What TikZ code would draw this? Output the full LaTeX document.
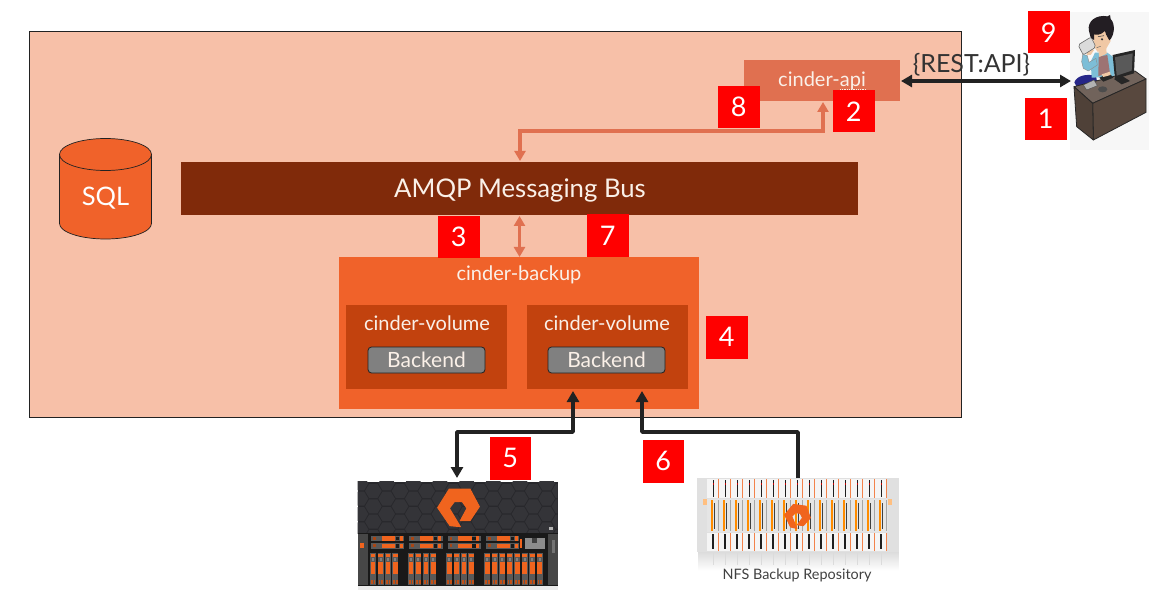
\documentclass[tikz,border=0pt]{standalone}
\usepackage{fontspec}
\setmainfont{Lato}
\usetikzlibrary{arrows.meta}
\definecolor{panelbg}{RGB}{247,192,168}
\definecolor{apibox}{RGB}{224,112,80}
\definecolor{busc}{RGB}{128,42,10}
\definecolor{backupc}{RGB}{240,98,42}
\definecolor{volc}{RGB}{194,66,14}
\definecolor{backc}{RGB}{128,128,128}
\definecolor{arrdark}{RGB}{34,34,34}
\definecolor{txtlight}{RGB}{250,240,232}
\definecolor{badgered}{RGB}{255,0,0}
\definecolor{pureorange}{RGB}{240,100,30}
\definecolor{deskc}{RGB}{88,72,62}
\definecolor{shirtc}{RGB}{125,190,215}
\definecolor{skinc}{RGB}{240,200,165}
\definecolor{hairc}{RGB}{35,30,35}
\definecolor{hexc}{RGB}{52,52,56}
\definecolor{hexbg}{RGB}{40,40,44}
\tikzset{
 boxn/.style={inner sep=0pt,outer sep=0pt,anchor=north west,text=txtlight},
 lbl/.style={text=txtlight,font=\fontsize{20}{21}\selectfont},
 benode/.style={draw=arrdark,line width=0.8pt,fill=backc,rounded corners=3.5pt,minimum width=117pt,minimum height=26pt,inner sep=0pt,text=txtlight,font=\fontsize{21}{22}\selectfont},
 badge/.style={fill=badgered,text=white,inner sep=0pt,outer sep=0pt,minimum width=41.5pt,minimum height=42.5pt,anchor=north west,font=\fontsize{27}{27}\selectfont},
 orangearrow/.style={draw=apibox,line width=3.6pt,{Triangle[length=10pt,width=11pt]}-{Triangle[length=10pt,width=11pt]}},
 darkarrow/.style={draw=arrdark,line width=3.6pt,-{Triangle[length=11pt,width=12pt]},line join=round},
 darkdouble/.style={draw=arrdark,line width=3.6pt,{Triangle[length=11pt,width=12pt]}-{Triangle[length=11pt,width=12pt]},line join=round},
}
\newcommand{\mybox}[6]{\node[boxn,fill=#5,minimum width=#3pt,minimum height=#4pt] (#6) at (#1,#2) {};}
% the logo, centred on its own origin
\newcommand{\purelogo}{\fill[pureorange,draw=pureorange,line width=1pt,line join=round]
 (-27,-56) -- (35,-56) -- (63,-3) -- (35,39) -- (6,39) -- (26,2) -- (12,-18) -- (-12,-18) -- (-27,2) -- (6,57) -- (-25,54) -- (-62,0) -- cycle;}
\begin{document}
\begin{tikzpicture}[x=1pt,y=-1pt]
\useasboundingbox (0,0) rectangle (1160,604);
\fill[white] (0,0) rectangle (1160,604);
% main panel
\node[boxn,draw=arrdark,line width=0.8pt,fill=panelbg,minimum width=932pt,minimum height=386pt] (panel) at (29.5,31) {};
% api
\mybox{744}{60}{156}{41}{apibox}{api}
\node[lbl] (apit) at (822,81) {cinder-api};
\draw[txtlight,line width=0.8pt,densely dotted] (840,89.5) -- (866,89.5);
% bus
\mybox{181}{162}{677}{53}{busc}{bus}
\node[text=txtlight,font=\fontsize{25.7}{27}\selectfont] (bust) at (520,190) {AMQP Messaging Bus};
% backup
\mybox{339}{257}{360}{152}{backupc}{backup}
\node[lbl] (backupt) at (519,275) {cinder-backup};
\mybox{346}{305}{161}{84}{volc}{vola}
\mybox{527}{305}{161}{84}{volc}{volb}
\node[lbl] (volat) at (427,323) {cinder-volume};
\node[lbl] (volbt) at (607,323) {cinder-volume};
\node[benode] (beA) at (426.5,360) {Backend};
\node[benode] (beB) at (606.5,360) {Backend};
% SQL cylinder
\draw[arrdark,line width=0.7pt,fill=backupc] (59.5,154.5) -- (59.5,223.5) arc[start angle=180,end angle=0,x radius=46,y radius=15.5] -- (151.5,154.5);
\draw[arrdark,line width=0.7pt,fill=backupc] (105.5,154.5) ellipse[x radius=46,y radius=16];
\node[text=white,font=\fontsize{25.5}{26}\selectfont] (sqlt) at (105.5,198.5) {SQL};
% user graphic
\begin{scope}[shift={(1020,5)},scale=0.33333]
\fill[black!3] (150,20) rectangle (387,435);
% legs
\fill[blue!45!black!85] (163,232) .. controls (170,212) and (200,205) .. (228,213) -- (232,235) -- (170,245) -- cycle;
% shirt
\fill[shirtc] (212,170) -- (225,143) -- (262,143) -- (292,165) -- (282,215) -- (215,218) -- cycle;
\fill[red!30!black!55!white] (236,155) -- (262,150) -- (270,205) -- (235,213) -- cycle;
% arm
\fill[skinc] (205,128) -- (222,135) -- (212,150) -- (200,150) -- cycle;
\fill[shirtc,draw=black!45,line width=.4pt] (188,148) -- (202,152) -- (207,172) -- (228,160) -- (232,180) -- (205,198) -- (190,190) -- (185,170) -- cycle;
% neck and face
\fill[skinc] (232,120) -- (258,122) -- (260,146) -- (238,156) -- cycle;
\fill[skinc] (218,88) -- (262,72) -- (272,108) -- (258,132) -- (232,140) -- (222,124) -- cycle;
% hair
\fill[hairc] (207,78) .. controls (200,48) and (230,28) .. (262,34) -- (270,30) -- (272,42) .. controls (288,58) and (282,95) .. (268,106) -- (258,88) -- (255,78) .. controls (240,92) and (228,90) .. (222,88) -- (222,105) -- (212,98) -- cycle;
\fill[black!80] (246,103) circle[radius=3.5];
\draw[black!70,line width=.6pt] (234,95) -- (252,92);
\draw[black!60,line width=.5pt] (230,128) -- (242,124);
% mug
\fill[black!14,draw=black!60,line width=.6pt,rounded corners=2pt] (174,120) -- (213,96) -- (228,126) -- (190,150) -- cycle;
% desk
\draw[black!85,line width=.8pt,line join=round,fill=deskc!85!white] (162,245) -- (345,198) -- (378,222) -- (218,295) -- cycle;
\draw[black!85,line width=.8pt,line join=round,fill=deskc] (218,295) -- (378,222) -- (378,322) -- (220,405) -- cycle;
\draw[black!85,line width=.8pt,line join=round,fill=deskc!90!black] (162,245) -- (218,295) -- (220,405) -- (170,365) -- cycle;
% items on the desk
\fill[black!70] (248,253) ellipse[x radius=14,y radius=9];
\draw[black!70,fill=black!30] (190,240) -- (222,225) -- (232,242) -- (200,255) -- cycle;
\fill[black!85] (238,218) -- (268,205) -- (280,218) -- (250,230) -- cycle;
\fill[skinc] (245,208) -- (270,200) -- (272,210) -- (250,216) -- cycle;
% monitor
\fill[black!85] (278,150) -- (345,135) -- (342,205) -- (285,222) -- cycle;
\fill[black!65] (285,157) -- (338,145) -- (335,197) -- (290,212) -- cycle;
\fill[black!85] (282,222) -- (305,212) -- (330,228) -- (305,238) -- cycle;
\end{scope}
% large array
\begin{scope}[shift={(355,475)},scale=0.33333]
\fill[black!8] (8,333) rectangle (608,345);
\fill[hexbg] (8,20) rectangle (608,175);
\begin{scope}
\clip (8,20) rectangle (608,175);
\foreach \col in {0,...,15}{
 \foreach \row in {0,...,3}{
  \pgfmathsetmacro{\hxx}{15+\col*40}
  \pgfmathsetmacro{\hyy}{25+\row*46+mod(\col,2)*23}
  \fill[hexc,shift={(\hxx,\hyy)}] (-25,0) -- (-12.5,-21) -- (12.5,-21) -- (25,0) -- (12.5,21) -- (-12.5,21) -- cycle;
 }
}
\end{scope}
\fill[black!90] (8,173) rectangle (608,333);
\fill[black!72] (8,178) rectangle (38,330);
\fill[black!72] (580,178) rectangle (608,330);
\fill[pureorange] (15,203) rectangle (27,220);
\fill[black!55] (590,195) rectangle (600,235);
\fill[white!70!black] (583,157) rectangle (595,164);
% upper drive rows
\foreach \ux in {48,163,278,393}{
 \foreach \uy in {183,205}{
  \fill[black!65] (\ux,\uy) rectangle (\ux+100,\uy+16);
  \fill[pureorange] (\ux+32,\uy+1) rectangle (\ux+72,\uy+14);
  \fill[pureorange] (\ux+86,\uy+1) rectangle (\ux+95,\uy+14);
  \fill[black!90] (\ux+74,\uy+2) rectangle (\ux+84,\uy+13);
  \fill[pureorange!70!black] (\ux+6,\uy+3) rectangle (\ux+14,\uy+12);
 }
}
\fill[pureorange] (496,193) rectangle (502,218);
\fill[black!45] (510,188) rectangle (570,222);
\fill[black!75] (530,190) rectangle (545,203);
% drive columns
\foreach \dx in {47,70,92,114,161,183,206,228,276,298,320,342,390,412,435,457,480,502,525,547}{
 \fill[black!65] (\dx-2,234) rectangle (\dx+16,330);
 \fill[pureorange] (\dx,238) rectangle (\dx+14,245);
 \fill[black!50] (\dx+4,249) rectangle (\dx+10,257);
 \fill[pureorange] (\dx,261) rectangle (\dx+14,298);
 \fill[pureorange!80!black] (\dx+1,316) rectangle (\dx+6,326);
 \fill[pureorange!80!black] (\dx+9,316) rectangle (\dx+14,326);
}
\begin{scope}[shift={(310,98)}]
\purelogo
\end{scope}
\end{scope}
% NFS repository
\begin{scope}[shift={(690,470)},scale=0.33333]
\shade[top color=black!14,bottom color=white] (25,245) rectangle (625,302);
\fill[black!12] (22,25) rectangle (627,245);
\fill[white!96!black] (52,28) rectangle (592,84);
\fill[white!90!black] (50,88) rectangle (594,185);
\fill[white!96!black] (52,190) rectangle (592,243);
\fill[orange!50!white] (38,88) rectangle (50,104);
\fill[orange!50!white] (594,88) rectangle (606,104);
\foreach \bx in {70,106,142,178,214,250,286,322,358,394,430,466,502,538,574}{
 \fill[black!88] (\bx-2,30) rectangle (\bx+3,80);
 \fill[red!75!black] (\bx-2,38) rectangle (\bx+3,46);
 \fill[pureorange!80!white] (\bx+14,26) rectangle (\bx+16,84);
 \fill[orange!90!yellow] (\bx-8,90) rectangle (\bx-1,182);
 \fill[black!75] (\bx+1,100) rectangle (\bx+4,178);
 \fill[black!35] (\bx+15,90) rectangle (\bx+17,182);
 \fill[black!88] (\bx-3,192) rectangle (\bx+3,236);
 \fill[pureorange!80!white] (\bx+14,190) rectangle (\bx+16,243);
 \fill[black!14] (\bx-2,250) rectangle (\bx+2,285);
}
\begin{scope}[shift={(322,140)},scale=0.62,rotate=-8]
\purelogo
\end{scope}
\end{scope}
\node[text=black!75,font=\fontsize{14.4}{15}\selectfont] (nfst) at (797,575) {NFS Backup Repository};
% connector ends
\coordinate (user) at (1071,81);
\coordinate (arrayA) at (457,478);
\coordinate (nfsA) at (798,478);
\coordinate (busTop) at (520,161);
\coordinate (apiBot) at (823,102);
\coordinate (busBot) at (519.5,216);
\coordinate (backTop) at (519.5,257);
\coordinate (volIn) at (573,391);
\coordinate (volOut) at (642,391);
\coordinate (apiE) at (901,81);
\coordinate (bendA) at (457,432);
\coordinate (bendB) at (642,432);
\coordinate (bendC) at (823,131);
% connectors
\draw[orangearrow] (busTop) |- (bendC) -- (apiBot);
\draw[orangearrow] (busBot) -- (backTop);
\draw[darkdouble] (apiE) -- (user);
\draw[darkdouble] (volIn) |- (bendA) -- (arrayA);
\draw[darkarrow] (nfsA) |- (bendB) -- (volOut);
\node[text=black!80,font=\fontsize{25}{26}\selectfont] (rest) at (971.5,65) {\{REST:API\}};
% badges
\node[badge] (b9) at (1028,11) {9};
\node[badge] (b1) at (1025,98) {1};
\node[badge] (b8) at (718,86) {8};
\node[badge] (b2) at (833,90) {2};
\node[badge] (b3) at (438,216) {3};
\node[badge] (b7) at (587,214.5) {7};
\node[badge] (b4) at (706,316) {4};
\node[badge] (b5) at (489.5,437) {5};
\node[badge] (b6) at (642.5,440) {6};
\end{tikzpicture}
\end{document}
